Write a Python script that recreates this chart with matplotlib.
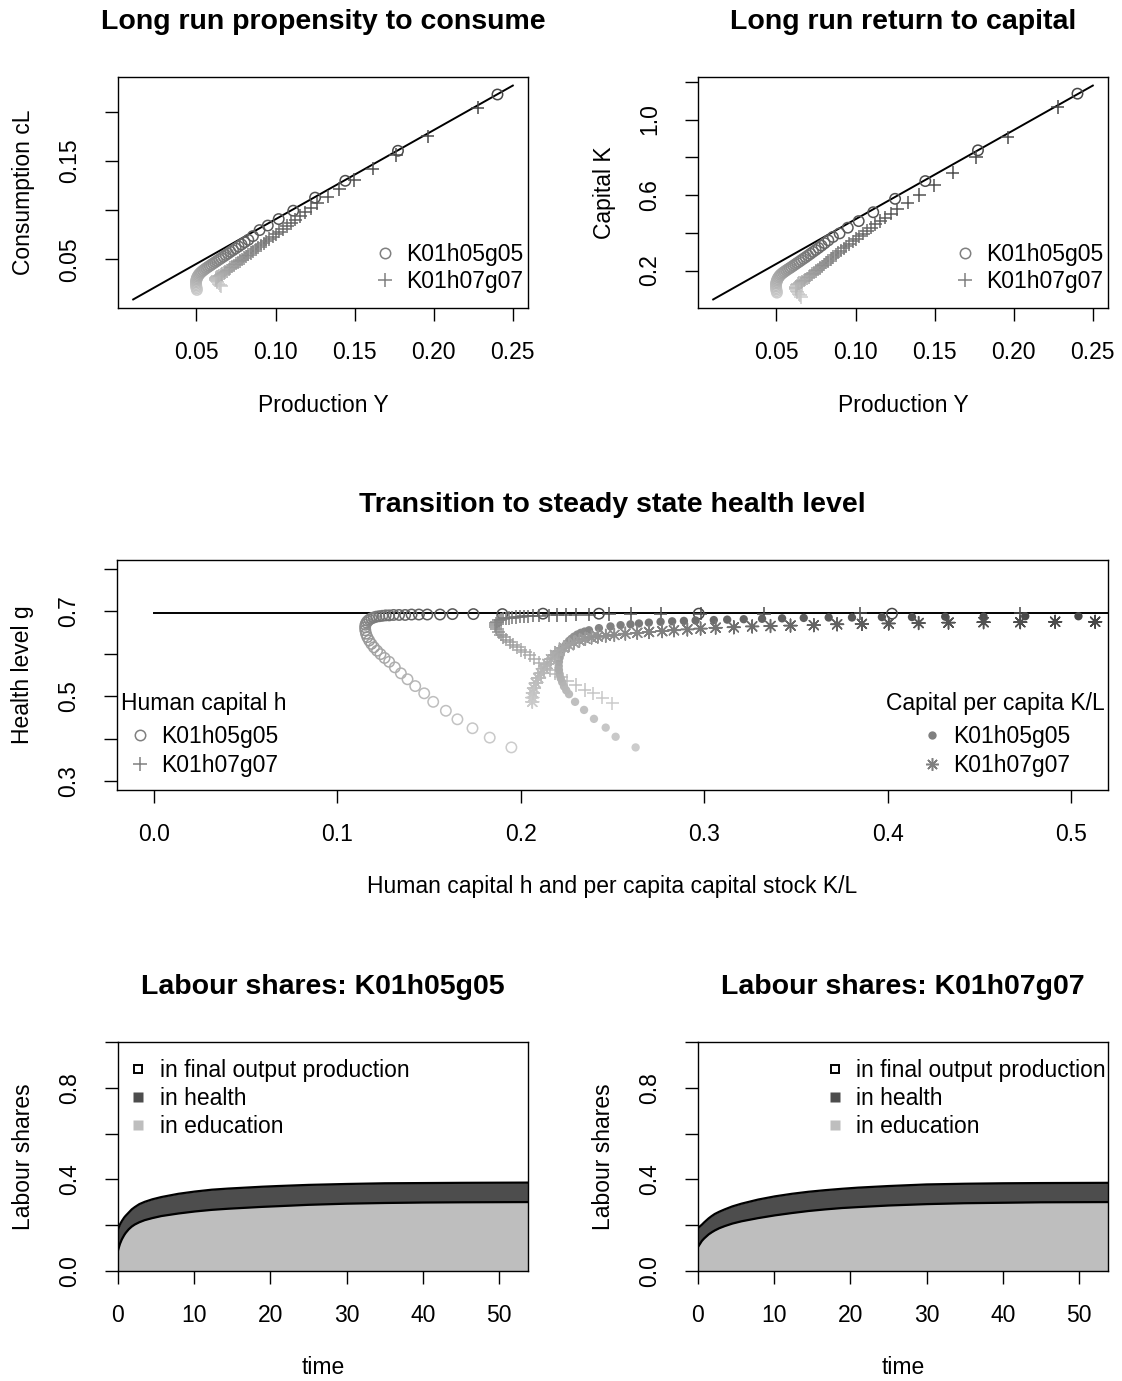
import matplotlib
matplotlib.use("Agg")
import matplotlib.pyplot as plt
from matplotlib.lines import Line2D

plt.rcParams['font.family'] = ['Liberation Sans', 'DejaVu Sans']

# ---------------- data ----------------
# Long-run relation lines (production Y vs consumption / capital)
line_Y = [0.01, 0.25]
line_C = [0.0091, 0.2265]
line_K = [0.047, 1.18]

# Scenario K01h05g05: production, consumption, capital over time
Y_a = [0.0503, 0.0501, 0.0499, 0.0498, 0.0497, 0.0497, 0.0498, 0.0500, 0.0503, 0.0507,
       0.0512, 0.0518, 0.0525, 0.0533, 0.0542, 0.0552, 0.0562, 0.0573, 0.0584, 0.0595,
       0.0607, 0.0619, 0.0631, 0.0644, 0.0657, 0.0671, 0.0685, 0.0700, 0.0715, 0.0731,
       0.0748, 0.0766, 0.0785, 0.0805, 0.0828, 0.0857, 0.0899, 0.0951, 0.1020, 0.1112,
       0.1250, 0.1441, 0.1774, 0.2403]
C_a = [0.0188, 0.0203, 0.0218, 0.0233, 0.0248, 0.0263, 0.0278, 0.0293, 0.0308, 0.0322,
       0.0336, 0.0349, 0.0361, 0.0373, 0.0385, 0.0397, 0.0409, 0.0421, 0.0433, 0.0445,
       0.0458, 0.0471, 0.0484, 0.0498, 0.0512, 0.0527, 0.0542, 0.0558, 0.0575, 0.0592,
       0.0610, 0.0629, 0.0650, 0.0672, 0.0697, 0.0735, 0.0796, 0.0842, 0.0908, 0.0993,
       0.1126, 0.1297, 0.1602, 0.2174]
K_a = [0.083, 0.091, 0.099, 0.107, 0.115, 0.123, 0.131, 0.139, 0.147, 0.155,
       0.163, 0.170, 0.177, 0.183, 0.189, 0.195, 0.201, 0.207, 0.213, 0.219,
       0.226, 0.233, 0.240, 0.247, 0.255, 0.263, 0.271, 0.280, 0.289, 0.299,
       0.309, 0.320, 0.332, 0.345, 0.360, 0.378, 0.397, 0.427, 0.462, 0.509,
       0.580, 0.674, 0.837, 1.137]

# Scenario K01h07g07
Y_b = [0.0656, 0.0648, 0.0640, 0.0633, 0.0627, 0.0623, 0.0622, 0.0624, 0.0629, 0.0636,
       0.0644, 0.0653, 0.0662, 0.0672, 0.0682, 0.0692, 0.0703, 0.0714, 0.0725, 0.0737,
       0.0749, 0.0761, 0.0774, 0.0787, 0.0800, 0.0814, 0.0828, 0.0843, 0.0858, 0.0874,
       0.0890, 0.0907, 0.0924, 0.0942, 0.0961, 0.0981, 0.1002, 0.1024, 0.1047, 0.1072,
       0.1098, 0.1126, 0.1156, 0.1188, 0.1225, 0.1265, 0.1330, 0.1404, 0.1498, 0.1615,
       0.1762, 0.1962, 0.2277]
C_b = [0.0225, 0.0238, 0.0251, 0.0264, 0.0277, 0.0289, 0.0300, 0.0310, 0.0318, 0.0326,
       0.0333, 0.0342, 0.0350, 0.0359, 0.0369, 0.0381, 0.0395, 0.0409, 0.0423, 0.0438,
       0.0454, 0.0467, 0.0482, 0.0497, 0.0513, 0.0528, 0.0545, 0.0562, 0.0580, 0.0600,
       0.0619, 0.0640, 0.0660, 0.0681, 0.0704, 0.0728, 0.0754, 0.0780, 0.0808, 0.0838,
       0.0869, 0.0903, 0.0939, 0.0977, 0.1022, 0.1068, 0.1136, 0.1212, 0.1305, 0.1419,
       0.1558, 0.1749, 0.2041]
K_b = [0.060, 0.068, 0.076, 0.084, 0.092, 0.100, 0.108, 0.115, 0.122, 0.130,
       0.134, 0.138, 0.1425, 0.147, 0.152, 0.159, 0.166, 0.174, 0.181, 0.189,
       0.197, 0.205, 0.214, 0.223, 0.232, 0.2415, 0.251, 0.2614, 0.272, 0.283,
       0.294, 0.306, 0.317, 0.329, 0.341, 0.354, 0.368, 0.382, 0.396, 0.412,
       0.428, 0.445, 0.462, 0.481, 0.502, 0.524, 0.560, 0.600, 0.652, 0.718,
       0.799, 0.905, 1.067]

# Steady state health level
ss_h = [0.0, 0.6]
ss_g = [0.695, 0.695]

# Human capital h and health g, K01h05g05
h_a = [0.1949, 0.1831, 0.1737, 0.1655, 0.1592, 0.1523, 0.1474, 0.1425, 0.1383, 0.1347,
       0.1314, 0.1283, 0.1258, 0.1236, 0.1217, 0.1200, 0.1186, 0.1174, 0.1164, 0.1157,
       0.1153, 0.1152, 0.1154, 0.1159, 0.1166, 0.1175, 0.1186, 0.1199, 0.1213, 0.1229,
       0.1246, 0.1264, 0.1283, 0.1307, 0.1337, 0.1370, 0.1405, 0.1445, 0.1491, 0.1560,
       0.1628, 0.1742, 0.1900, 0.2121, 0.2426, 0.2970, 0.4023]
gh_a = [0.380, 0.403, 0.425, 0.446, 0.466, 0.487, 0.507, 0.524, 0.540, 0.554,
        0.568, 0.581, 0.590, 0.599, 0.607, 0.615, 0.623, 0.631, 0.639, 0.647,
        0.655, 0.662, 0.668, 0.673, 0.677, 0.680, 0.683, 0.685, 0.687, 0.688,
        0.689, 0.690, 0.690, 0.691, 0.691, 0.691, 0.692, 0.692, 0.692, 0.692,
        0.693, 0.693, 0.693, 0.694, 0.694, 0.694, 0.694]

# Human capital h and health g, K01h07g07
h_b = [0.2499, 0.2444, 0.2395, 0.2348, 0.2299, 0.2254, 0.2220, 0.2188, 0.2158, 0.2129,
       0.2101, 0.2074, 0.2048, 0.2023, 0.2000, 0.1979, 0.1959, 0.1940, 0.1922, 0.1906,
       0.1892, 0.1880, 0.1870, 0.1864, 0.1862, 0.1864, 0.1870, 0.1879, 0.1891, 0.1905,
       0.1920, 0.1937, 0.1955, 0.1975, 0.1996, 0.2018, 0.2042, 0.2068, 0.2100, 0.2154,
       0.2200, 0.2245, 0.2300, 0.2372, 0.2481, 0.2599, 0.2762, 0.2980, 0.3325, 0.3851,
       0.4722]
gh_b = [0.4836, 0.4967, 0.507, 0.5148, 0.5265, 0.5358, 0.545, 0.553, 0.562, 0.570,
        0.579, 0.588, 0.596, 0.603, 0.609, 0.615, 0.621, 0.627, 0.633, 0.639,
        0.645, 0.651, 0.657, 0.662, 0.667, 0.671, 0.675, 0.678, 0.680, 0.682,
        0.683, 0.684, 0.685, 0.686, 0.687, 0.688, 0.688, 0.689, 0.689, 0.690,
        0.691, 0.691, 0.692, 0.692, 0.693, 0.693, 0.694, 0.694, 0.694, 0.695,
        0.695]

# Capital per capita K/L and health g, K01h05g05
kl_a = [0.2626, 0.2517, 0.2463, 0.2399, 0.2345, 0.2296, 0.2263, 0.2248, 0.2236, 0.2226,
        0.2218, 0.2212, 0.2208, 0.2207, 0.2208, 0.2212, 0.2218, 0.2226, 0.2236, 0.2248,
        0.2263, 0.2276, 0.2290, 0.2308, 0.2327, 0.2348, 0.2372, 0.2426, 0.2489, 0.2544,
        0.2598, 0.2644, 0.2698, 0.2762, 0.2825, 0.2889, 0.2953, 0.3052, 0.3125, 0.3215,
        0.3315, 0.3424, 0.3542, 0.3678, 0.3805, 0.3968, 0.4132, 0.4313, 0.4522, 0.4749,
        0.5039]
gk_a = [0.380, 0.405, 0.4265, 0.447, 0.468, 0.487, 0.505, 0.514, 0.523, 0.533,
        0.542, 0.552, 0.562, 0.571, 0.581, 0.591, 0.601, 0.609, 0.616, 0.623,
        0.630, 0.635, 0.640, 0.645, 0.649, 0.652, 0.655, 0.660, 0.664, 0.667,
        0.669, 0.671, 0.673, 0.675, 0.676, 0.677, 0.678, 0.679, 0.680, 0.681,
        0.682, 0.683, 0.684, 0.685, 0.685, 0.686, 0.686, 0.687, 0.687, 0.688,
        0.688]

# Capital per capita K/L and health g, K01h07g07
kl_b = [0.2063, 0.2063, 0.2066, 0.2072, 0.2082, 0.2095, 0.2110, 0.2127, 0.2145, 0.2165,
        0.2187, 0.2210, 0.2235, 0.2262, 0.2290, 0.2320, 0.2352, 0.2386, 0.2420, 0.2463,
        0.2510, 0.2570, 0.2635, 0.2699, 0.2771, 0.2835, 0.2908, 0.2980, 0.3062, 0.3161,
        0.3261, 0.3361, 0.3470, 0.3597, 0.3724, 0.3859, 0.4005, 0.4168, 0.4331, 0.4522,
        0.4722, 0.4912, 0.5130]
gk_b = [0.487, 0.497, 0.508, 0.519, 0.531, 0.543, 0.554, 0.565, 0.576, 0.587,
        0.597, 0.606, 0.614, 0.620, 0.626, 0.631, 0.635, 0.638, 0.640, 0.642,
        0.644, 0.647, 0.649, 0.651, 0.653, 0.655, 0.657, 0.659, 0.661, 0.662,
        0.664, 0.665, 0.666, 0.667, 0.669, 0.670, 0.671, 0.672, 0.673, 0.674,
        0.674, 0.675, 0.675]

# Labour shares over time (cumulative: education, education + health)
time = [0, 0.25, 0.5, 0.8, 1.0, 1.4, 1.8, 2.2, 2.8, 3.5, 4.5, 5.7, 7.9, 10.1, 12.3,
        14.5, 16.7, 18.9, 21, 25, 30, 35, 40, 45, 53.8]
edu_a = [0.090, 0.118, 0.138, 0.156, 0.166, 0.182, 0.194, 0.203, 0.213, 0.222, 0.231,
         0.240, 0.251, 0.260, 0.267, 0.272, 0.276, 0.280, 0.283, 0.289, 0.294, 0.297,
         0.299, 0.300, 0.301]
tot_a = [0.182, 0.203, 0.218, 0.233, 0.241, 0.255, 0.269, 0.279, 0.292, 0.302, 0.313,
         0.323, 0.337, 0.347, 0.355, 0.360, 0.364, 0.368, 0.371, 0.376, 0.380, 0.383,
         0.384, 0.385, 0.386]
edu_b = [0.105, 0.118, 0.131, 0.142, 0.148, 0.160, 0.169, 0.177, 0.187, 0.196, 0.207,
         0.217, 0.231, 0.243, 0.253, 0.262, 0.269, 0.275, 0.279, 0.286, 0.292, 0.296,
         0.298, 0.300, 0.301]
tot_b = [0.188, 0.195, 0.202, 0.212, 0.218, 0.230, 0.240, 0.249, 0.259, 0.269, 0.282,
         0.294, 0.312, 0.326, 0.337, 0.346, 0.353, 0.359, 0.364, 0.371, 0.378, 0.381,
         0.383, 0.384, 0.385]

scen_labels = ["K01h05g05", "K01h07g07"]

# ---------------- style ----------------
FS = 16.5
TFS = 20.5
W, H = 1122, 1381
TICK_LEN = 9.7
fig = plt.figure(figsize=(W / 100, H / 100), dpi=100)


def add_axes_px(l, t, r, b):
    return fig.add_axes([l / W, 1 - b / H, (r - l) / W, (b - t) / H])


def r_pad(lo, hi):
    d = (hi - lo) * 0.04
    return lo - d, hi + d


def ramp(n, start=0.80, end=0.28):
    return [str(start + (end - start) * i / (n - 1)) for i in range(n)]


def style(ax, xticks, xlabels, yticks, ylabels, xlab, ylab, title, hpx, wpx):
    for s in ax.spines.values():
        s.set_linewidth(1.0)
    ax.set_xticks(xticks)
    ax.set_xticklabels(xlabels)
    ax.set_yticks(yticks)
    ax.set_yticklabels(ylabels, rotation=90, va='center')
    ax.tick_params(axis='x', direction='out', length=TICK_LEN, width=1.0,
                   labelsize=FS, pad=14.0)
    ax.tick_params(axis='y', direction='out', length=TICK_LEN, width=1.0,
                   labelsize=FS, pad=17.0)
    ax.set_xlabel(xlab, fontsize=FS)
    ax.xaxis.set_label_coords(0.5, -97 / hpx)
    ax.xaxis.label.set_va('center')
    ax.set_ylabel(ylab, fontsize=FS)
    ax.yaxis.set_label_coords(-94 / wpx, 0.5)
    ax.yaxis.label.set_va('center')
    ax.text(0.5, 1 + 55 / hpx, title, transform=ax.transAxes, ha='center',
            va='center', fontsize=TFS, fontweight='bold')


def titled_gap(lg, extra_px):
    # widen the gap between a legend title and its entries
    lg._legend_box.sep = lg._legend_box.sep + extra_px / 1.389


GRAY = '0.5'
circ_kw = dict(marker='o', s=56, facecolors='none', linewidths=1.1)
plus_kw = dict(marker='+', s=92, linewidths=1.1)

# ---------------- top-left: consumption vs production ----------------
ax1 = add_axes_px(118, 77, 528, 308)
ax1.plot(line_Y, line_C, color='black', lw=1.4, zorder=1)
ax1.scatter(Y_a, C_a, edgecolors=ramp(len(Y_a)), zorder=2, **circ_kw)
ax1.scatter(Y_b, C_b, c=ramp(len(Y_b)), zorder=2, **plus_kw)
ax1.set_xlim(*r_pad(line_Y[0], line_Y[1]))
ax1.set_ylim(*r_pad(line_C[0], line_C[1]))
style(ax1, [0.05, 0.10, 0.15, 0.20, 0.25], ['0.05', '0.10', '0.15', '0.20', '0.25'],
      [0.05, 0.10, 0.15, 0.20], ['0.05', '', '0.15', ''],
      'Production Y', 'Consumption cL', 'Long run propensity to consume', 231, 410)

# ---------------- top-right: capital vs production ----------------
ax2 = add_axes_px(698, 77, 1108, 308)
ax2.plot(line_Y, line_K, color='black', lw=1.4, zorder=1)
ax2.scatter(Y_a, K_a, edgecolors=ramp(len(Y_a)), zorder=2, **circ_kw)
ax2.scatter(Y_b, K_b, c=ramp(len(Y_b)), zorder=2, **plus_kw)
ax2.set_xlim(*r_pad(line_Y[0], line_Y[1]))
ax2.set_ylim(*r_pad(line_K[0], line_K[1]))
style(ax2, [0.05, 0.10, 0.15, 0.20, 0.25], ['0.05', '0.10', '0.15', '0.20', '0.25'],
      [0.2, 0.4, 0.6, 0.8, 1.0, 1.2], ['0.2', '', '0.6', '', '1.0', ''],
      'Production Y', 'Capital K', 'Long run return to capital', 231, 410)

top_handles = [Line2D([], [], ls='none', marker='o', markersize=7.5, mfc='none',
                      mec=GRAY, mew=1.1),
               Line2D([], [], ls='none', marker='+', markersize=9.6, mec=GRAY, mew=1.1)]
for ax in (ax1, ax2):
    ax.legend(top_handles, scen_labels, loc='lower right', bbox_to_anchor=(0.988, 0.066),
              frameon=False, fontsize=FS, handlelength=1.0, handletextpad=0.42,
              labelspacing=0.17, borderpad=0, borderaxespad=0)

# ---------------- middle: transition to steady state ----------------
ax3 = add_axes_px(117, 560, 1108, 790)
ax3.plot(ss_h, ss_g, color='black', lw=1.4, zorder=1)
ax3.scatter(h_a, gh_a, edgecolors=ramp(len(h_a)), zorder=2, **circ_kw)
ax3.scatter(h_b, gh_b, c=ramp(len(h_b)), zorder=2, **plus_kw)
ax3.scatter(kl_a, gk_a, c=ramp(len(kl_a)), marker='o', s=36, linewidths=0, zorder=2)
ax3.scatter(kl_b, gk_b, c=ramp(len(kl_b)), marker=(8, 2, 0), s=85, linewidths=1.1,
            zorder=2)
ax3.set_xlim(*r_pad(0.0, 0.5))
ax3.set_ylim(*r_pad(0.3, 0.8))
style(ax3, [0.0, 0.1, 0.2, 0.3, 0.4, 0.5], ['0.0', '0.1', '0.2', '0.3', '0.4', '0.5'],
      [0.3, 0.4, 0.5, 0.6, 0.7, 0.8], ['0.3', '', '0.5', '', '0.7', ''],
      'Human capital h and per capita capital stock K/L', 'Health level g',
      'Transition to steady state health level', 230, 991)

h_handles = [Line2D([], [], ls='none', marker='o', markersize=7.5, mfc='none',
                    mec=GRAY, mew=1.1),
             Line2D([], [], ls='none', marker='+', markersize=9.6, mec=GRAY, mew=1.1)]
k_handles = [Line2D([], [], ls='none', marker='o', markersize=6, mfc=GRAY, mec='none'),
             Line2D([], [], ls='none', marker=(8, 2, 0), markersize=9.2, mec=GRAY,
                    mew=1.1)]
lg1 = ax3.legend(h_handles, scen_labels, title='Human capital h', loc='lower left',
                 bbox_to_anchor=(0.004, 0.058), frameon=False, fontsize=FS,
                 title_fontsize=FS, handlelength=1.0, handletextpad=0.42,
                 labelspacing=0.23, borderpad=0, borderaxespad=0)
titled_gap(lg1, 5)
ax3.add_artist(lg1)
lg2 = ax3.legend(k_handles, scen_labels, title='Capital per capita K/L',
                 loc='lower right', bbox_to_anchor=(0.997, 0.058), frameon=False,
                 fontsize=FS, title_fontsize=FS, handlelength=1.0, handletextpad=0.42,
                 labelspacing=0.23, borderpad=0, borderaxespad=0)
titled_gap(lg2, 5)

# ---------------- bottom: labour shares ----------------
LIGHT = '#BEBEBE'
DARK = '#4D4D4D'
share_labels = ['in final output production', 'in health', 'in education']
share_handles = [Line2D([], [], ls='none', marker='s', markersize=6.3, mfc='white',
                        mec='black', mew=1.4),
                 Line2D([], [], ls='none', marker='s', markersize=6.6, mfc=DARK, mec='none'),
                 Line2D([], [], ls='none', marker='s', markersize=6.6, mfc=LIGHT, mec='none')]

for (l, r), edu, tot, name, lpos in (((118, 528), edu_a, tot_a, scen_labels[0],
                                      ('upper left', (0.022, 0.925))),
                                     ((698, 1108), edu_b, tot_b, scen_labels[1],
                                      ('upper right', (0.994, 0.925)))):
    ax = add_axes_px(l, 1042, r, 1271)
    ax.fill_between(time, 0, edu, color=LIGHT, lw=0)
    ax.fill_between(time, edu, tot, color=DARK, lw=0)
    ax.plot(time, edu, color='black', lw=1.6)
    ax.plot(time, tot, color='black', lw=1.6)
    ax.set_xlim(0, 53.8)
    ax.set_ylim(0, 1)
    style(ax, [0, 10, 20, 30, 40, 50], ['0', '10', '20', '30', '40', '50'],
          [0.0, 0.2, 0.4, 0.6, 0.8, 1.0], ['0.0', '', '0.4', '', '0.8', ''],
          'time', 'Labour shares', 'Labour shares: ' + name, 229, 410)
    ax.legend(share_handles, share_labels, loc=lpos[0], bbox_to_anchor=lpos[1],
              frameon=False, fontsize=FS, handlelength=1.0, handletextpad=0.42,
              labelspacing=0.22, borderpad=0, borderaxespad=0)

fig.savefig('out.png', dpi=100)
